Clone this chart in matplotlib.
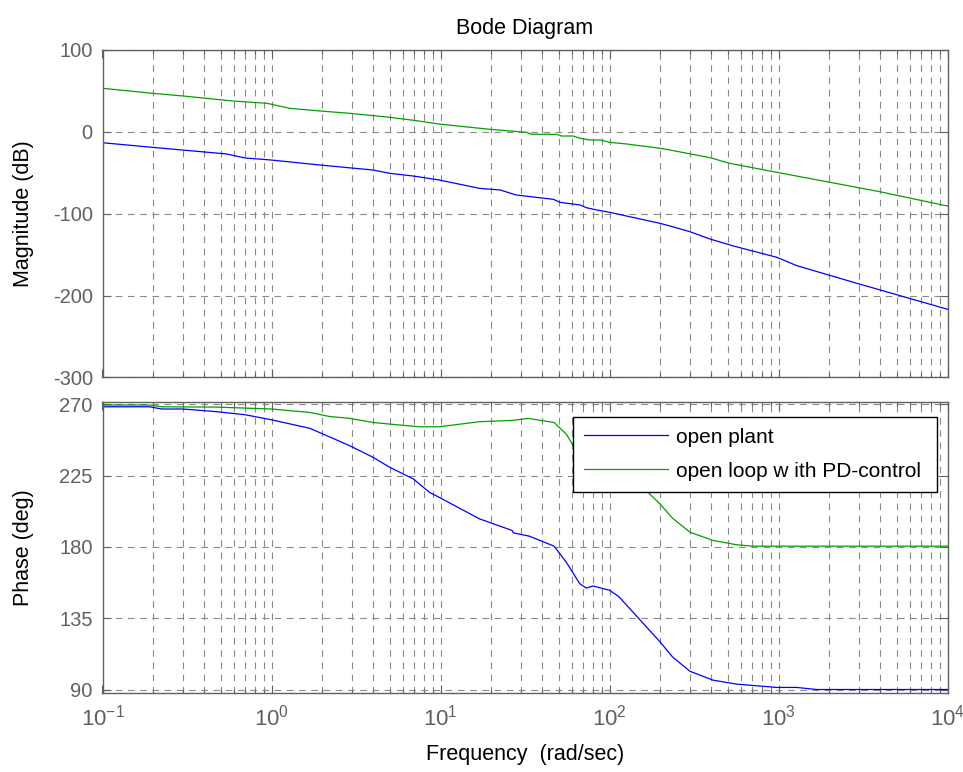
import matplotlib
matplotlib.use("Agg")
import matplotlib.pyplot as plt
from matplotlib.ticker import LogLocator, NullFormatter, FixedLocator

plt.rcParams['font.family'] = ['Liberation Sans', 'DejaVu Sans']
plt.rcParams['axes.unicode_minus'] = False
plt.rcParams['mathtext.fontset'] = 'custom'
plt.rcParams['mathtext.rm'] = 'Liberation Sans'
plt.rcParams['mathtext.it'] = 'Liberation Sans'

# Open plant: magnitude response
plant_mag_w = [0.1, 0.197, 0.543, 0.697, 1.0, 1.94, 4.0, 5.0, 6.9, 9.8, 17, 22.5, 28,
               46.5, 51, 67, 73, 84, 100, 199, 228, 299, 393, 541, 977, 1283, 2906, 10000]
plant_mag_db = [-13.7, -19.3, -27.4, -32.3, -34.8, -40.9, -47.0, -51.0, -54.3, -59.1, -69.3,
                -71.3, -77.4, -82.7, -86.4, -89.6, -92.9, -95.7, -98.5, -112.0, -115.2,
                -122.2, -131.1, -139.6, -153.4, -163.6, -185.1, -216.8]

# Open loop with PD-control: magnitude response
pd_mag_w = [0.1, 0.197, 0.3, 0.59, 0.94, 1.28, 1.94, 2.9, 5.0, 7.2, 9.8, 19.5, 32.2, 34.6,
            48.5, 52, 61, 67, 76.7, 89, 100, 126, 199, 228, 393, 514, 977, 1930, 3970, 10000]
pd_mag_db = [52.7, 46.6, 43.3, 37.2, 34.4, 28.3, 25.0, 22.2, 17.3, 13.2, 9.1, 2.7, -1.0, -3.4,
             -3.4, -5.5, -5.5, -8.3, -10.4, -10.4, -13.2, -15.2, -20.5, -22.6, -31.9, -38.8,
             -49.8, -61.2, -73.4, -90.9]

# Open plant: phase response
plant_ph_w = [0.1, 0.19, 0.224, 0.3, 0.474, 0.697, 1.0, 1.69, 2.9, 4.0, 5.0, 6.9, 8.6, 9.8,
              17, 26.5, 27, 33.5, 47, 55.5, 66.6, 73, 80, 100, 113, 132, 199, 236, 299, 410,
              564, 977, 1283, 1680, 10000]
plant_ph_deg = [268.3, 268.3, 266.9, 266.9, 265.2, 263.3, 260.1, 254.7, 243.8, 236.4, 230.2,
                222.9, 214.4, 211.3, 197.7, 190.4, 188.9, 186.8, 180.5, 170.4, 156.9, 154.1,
                155.4, 152.7, 148.9, 141.1, 120.2, 110.7, 101.7, 96.1, 93.6, 91.5, 91.5,
                90.2, 90.2]

# Open loop with PD-control: phase response
pd_ph_w = [0.1, 0.19, 0.224, 0.474, 1.0, 1.69, 2.2, 2.9, 4.0, 5.0, 7.5, 9.8, 17, 26.5, 33,
           47, 55.5, 61, 75, 100, 130, 170, 199, 236, 299, 410, 564, 700, 10000]
pd_ph_deg = [269.4, 269.4, 268.3, 268.1, 266.9, 264.7, 262.2, 261.0, 258.4, 257.4, 255.7,
             255.7, 258.9, 259.7, 261.0, 258.4, 251.1, 243.8, 236.0, 229.0, 221.0, 214.1,
             207.1, 198.1, 189.3, 184.1, 181.4, 180.5, 180.5]

mag_ticks = [-300, -200, -100, 0, 100]
phase_ticks = [90, 135, 180, 225, 270]
series_labels = ["open plant", "open loop w ith PD-control"]

BLUE = "#0000ff"
GREEN = "#00a000"
AXCOL = "#606060"
GRIDCOL = "#8a8a8a"
W, H = 963, 772

fig = plt.figure(figsize=(W / 100, H / 100), dpi=100)
ax1 = fig.add_axes([102.5 / W, 1 - 377.5 / H, 845 / W, 328 / H])
ax2 = fig.add_axes([102.5 / W, 1 - 693 / H, 845 / W, 291.3 / H])

ax1.plot(plant_mag_w, plant_mag_db, color=BLUE, lw=0.9)
ax1.plot(pd_mag_w, pd_mag_db, color=GREEN, lw=0.9)
l1, = ax2.plot(plant_ph_w, plant_ph_deg, color=BLUE, lw=0.9)
l2, = ax2.plot(pd_ph_w, pd_ph_deg, color=GREEN, lw=0.9)

for ax in (ax1, ax2):
    ax.set_xscale("log")
    ax.set_xlim(0.1, 1e4)
    ax.xaxis.set_major_locator(LogLocator(base=10, numticks=10))
    ax.xaxis.set_minor_locator(LogLocator(base=10, subs=range(2, 10), numticks=100))
    ax.xaxis.set_minor_formatter(NullFormatter())
    ax.grid(True, which="major", axis="both", color=GRIDCOL, linestyle=(0, (6, 5)), lw=0.8)
    ax.grid(True, which="minor", axis="x", color=GRIDCOL, linestyle=(0, (6, 5)), lw=0.8)
    ax.tick_params(which="both", direction="in", top=True, right=True, colors=AXCOL,
                   labelsize=14.5, width=0.8)
    ax.tick_params(which="major", length=6, pad=7)
    ax.tick_params(which="minor", length=3)
    ax.tick_params(axis="x", which="major", labelsize=16, pad=8)
    for s in ax.spines.values():
        s.set_color(AXCOL)
        s.set_linewidth(1.0)

ax1.set_ylim(-300, 100)
ax1.yaxis.set_major_locator(FixedLocator(mag_ticks))
ax1.tick_params(axis="x", labelbottom=False)
ax1.set_ylabel("Magnitude (dB)", fontsize=15.5)
ax1.yaxis.set_label_coords(-0.0805, 0.5)
ax1.set_title("Bode Diagram", fontsize=15.5, pad=11.5)

ax2.set_ylim(88, 271.5)
ax2.yaxis.set_major_locator(FixedLocator(phase_ticks))
ax2.set_ylabel("Phase (deg)", fontsize=15.5)
ax2.yaxis.set_label_coords(-0.0805, 0.5)
ax2.set_xlabel("Frequency  (rad/sec)", fontsize=15.5)
ax2.xaxis.set_label_coords(0.5, -0.175)

leg = ax2.legend([l1, l2], series_labels, loc="upper left",
                 bbox_to_anchor=(0.5565, 0.691, 0.4305, 0.2575), mode="expand",
                 borderaxespad=0, fontsize=15, handlelength=4.05, handletextpad=0.36,
                 labelspacing=0.72, borderpad=0.53, fancybox=False, framealpha=1,
                 edgecolor="black")
leg.get_frame().set_linewidth(1.0)

fig.savefig("out.png", dpi=100)
